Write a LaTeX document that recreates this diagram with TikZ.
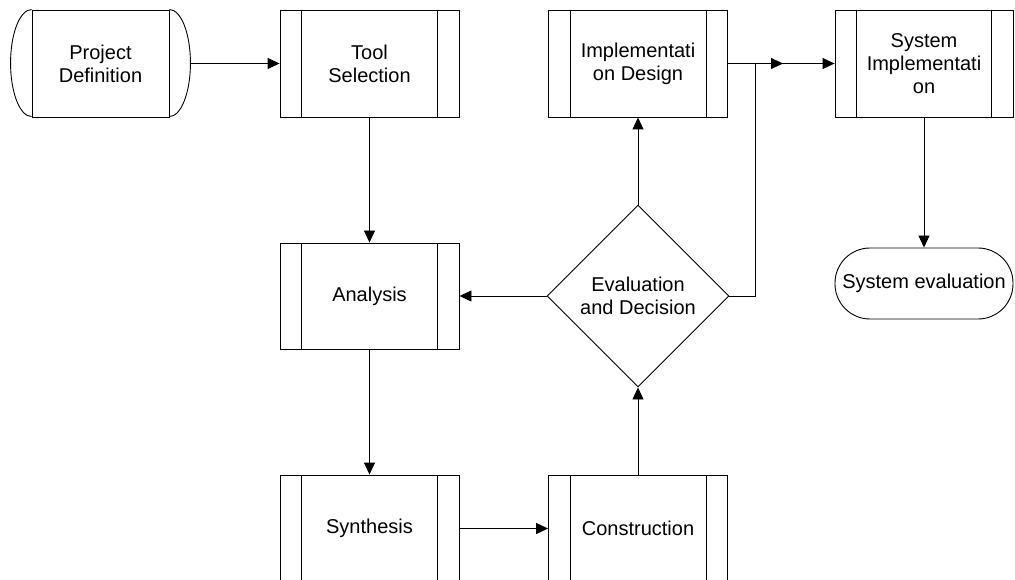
\documentclass[tikz,border=0pt]{standalone}
\usepackage{fontspec}
\setmainfont{Liberation Sans}
\usetikzlibrary{shapes.geometric,arrows.meta}
\begin{document}
\begin{tikzpicture}[x=1pt,y=-1pt,
  every node/.style={font=\fontsize{20}{23}\selectfont, align=center, inner sep=0pt},
  line/.style={line width=0.9pt, draw=black},
  proc/.style={line, rectangle, minimum width=179pt, minimum height=107pt},
  term/.style={line, rectangle, minimum width=137pt, minimum height=107pt},
  decision/.style={line, diamond, minimum width=182pt, minimum height=182pt},
  stadium/.style={line, rectangle, rounded corners=35pt, minimum width=178pt, minimum height=71pt},
  arr/.style={line, -{Triangle[length=12pt,width=11pt]}}
]
\useasboundingbox (0,0) rectangle (1015,580);
\clip (0,0) rectangle (1015,580);
\fill[white] (0,0) rectangle (1015,580);

\node[term] (pd) at (100.5,63.5) {Project\\Definition};
\node[proc] (ts) at (369.5,63.5) {Tool\\Selection};
\node[proc] (id) at (638,63.5) {Implementati\\on Design};
\node[proc, minimum width=178pt] (si) at (924,63.5) {System\\Implementati\\on};
\node[proc, minimum height=106pt] (an) at (369.5,296) {Analysis};
\node[proc] (sy) at (369.5,528.5) {Synthesis};
\node[proc] (co) at (638,528.5) {Construction};
\node[decision] (ed) at (638,296) {Evaluation\\and Decision};
\node[stadium] (se) at (924,283.5) {System evaluation};

% curved ends of the project definition shape
\draw[line] (pd.north west) arc[start angle=90, end angle=270, x radius=21pt, y radius=53.5pt];
\draw[line] (pd.north east) arc[start angle=90, end angle=-90, x radius=21pt, y radius=53.5pt];

% inner lines of process boxes
\foreach \n in {ts,id,si,an,sy,co} {
  \draw[line] ([xshift=22pt]\n.north west) -- ([xshift=22pt]\n.south west);
  \draw[line] ([xshift=-22pt]\n.north east) -- ([xshift=-22pt]\n.south east);
}

\coordinate (j) at (783,63.5);

\draw[arr] ([xshift=21pt]pd.east) -- (ts.west);
\draw[arr] (ts.south) -- (an.north);
\draw[arr] (an.south) -- (sy.north);
\draw[arr] (sy.east) -- (co.west);
\draw[arr] (co.north) -- (ed.south);
\draw[arr] (ed.north) -- (id.south);
\draw[arr] (ed.west) -- (an.east);
\draw[arr] (id.east) -- (si.west);
\draw[arr] (ed.east) -| ([xshift=-28pt]j) -- (j);
\draw[arr] (si.south) -- (se.north);
\end{tikzpicture}
\end{document}
